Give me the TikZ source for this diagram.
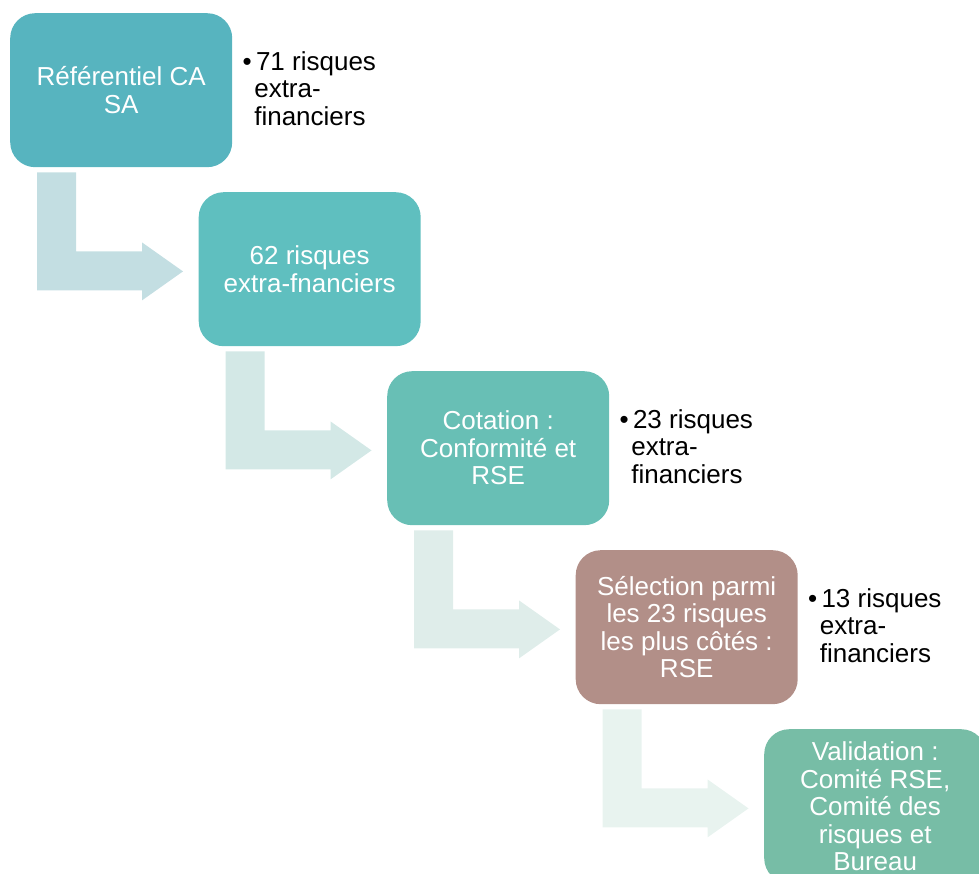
\documentclass[tikz,border=0pt]{standalone}
\usepackage{fontspec}
\setmainfont{Liberation Sans}
\definecolor{boxA}{HTML}{57B4BF}
\definecolor{boxB}{HTML}{5FBFBF}
\definecolor{boxC}{HTML}{68BFB5}
\definecolor{boxD}{HTML}{B28F88}
\definecolor{boxE}{HTML}{77BDA6}
\definecolor{arrA}{HTML}{C3DEE2}
\definecolor{arrB}{HTML}{D3E8E6}
\definecolor{arrC}{HTML}{DFEDEA}
\definecolor{arrD}{HTML}{E8F3EF}
\tikzset{
  stepbox/.style={rectangle, rounded corners=25pt, minimum width=222pt, minimum height=154pt,
    anchor=north west, inner sep=0pt, text=white, align=center,
    font=\fontsize{26}{27.5}\selectfont},
  bullettext/.style={anchor=north west, inner sep=0pt, align=left, text=black,
    font=\fontsize{26}{27.5}\selectfont},
}
\newcommand{\bentarrow}[2]{%
  \begin{scope}[shift={(#1.south west)}]
    \fill[#2] (27,5) -- (66,5) -- (66,84) -- (132,84) -- (132,75) -- (173,104)
      -- (132,133) -- (132,123) -- (27,123) -- cycle;
  \end{scope}}
\begin{document}
\begin{tikzpicture}[x=1pt,y=-1pt]
\useasboundingbox (0,0) rectangle (979,874);
\clip (0,0) rectangle (979,874);
\node[stepbox, fill=boxA] (b1) at (10,13) {Référentiel CA\\SA};
\node[stepbox, fill=boxB] (b2) at (198.5,192) {62 risques\\extra-fnanciers};
\node[stepbox, fill=boxC] (b3) at (387,371) {Cotation :\\Conformité et\\RSE};
\node[stepbox, fill=boxD] (b4) at (575.5,550) {Sélection parmi\\les 23 risques\\les plus côtés :\\RSE};
\node[stepbox, fill=boxE] (b5) at (764,729) {Validation :\\Comité RSE,\\Comité des\\risques et\\Bureau};
\bentarrow{b1}{arrA}
\bentarrow{b2}{arrB}
\bentarrow{b3}{arrC}
\bentarrow{b4}{arrD}
\node[bullettext] (t1) at ([shift={(10,38)}]b1.north east) {\textbullet\,71 risques\\\hspace{0.45em}extra-\\\hspace{0.45em}financiers};
\node[bullettext] (t3) at ([shift={(10,38)}]b3.north east) {\textbullet\,23 risques\\\hspace{0.45em}extra-\\\hspace{0.45em}financiers};
\node[bullettext] (t4) at ([shift={(10,38)}]b4.north east) {\textbullet\,13 risques\\\hspace{0.45em}extra-\\\hspace{0.45em}financiers};
\end{tikzpicture}
\end{document}
